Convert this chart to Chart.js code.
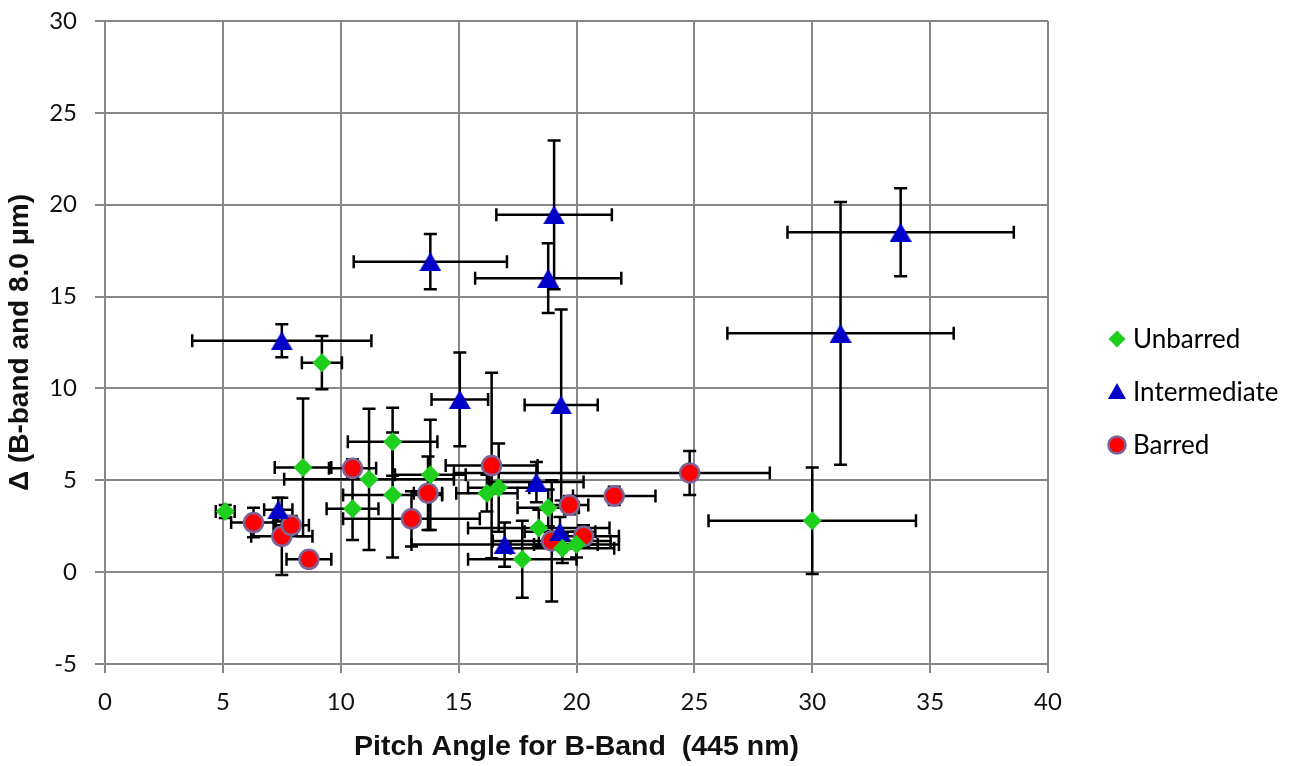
<!DOCTYPE html>
<html>
<head>
<meta charset="utf-8">
<script src="https://cdn.jsdelivr.net/npm/chart.js@4.4.1/dist/chart.umd.min.js"></script>
<style>
  html, body { margin: 0; padding: 0; background: #fff; }
  #wrap { width: 1302px; height: 766px; }
</style>
</head>
<body>
<div id="wrap"><canvas id="chart" width="1302" height="766"></canvas></div>
<script>
// Unbarred galaxies
const unbarredX    = [5.1, 8.4, 9.2, 10.5, 11.2, 12.2, 12.2, 13.8, 16.2, 16.7, 18.8, 18.4, 17.7, 19.4, 20.0, 30.0];
const unbarredY    = [3.3, 5.7, 11.4, 3.45, 5.05, 7.1, 4.2, 5.3, 4.3, 4.6, 3.5, 2.4, 0.7, 1.3, 1.5, 2.8];
const unbarredXErr = [0.4, 1.2, 0.85, 1.1, 3.6, 1.9, 2.1, 1.5, 1.3, 1.3, 1.3, 3.0, 2.3, 2.2, 1.8, 4.4];
const unbarredYErr = [0.35, 3.75, 1.45, 1.7, 3.85, 1.85, 3.4, 3.0, 1.0, 2.4, 1.0, 1.0, 2.1, 0.8, 0.7, 2.9];

// Intermediate
const intermediateX    = [7.5, 7.35, 13.8, 19.05, 18.8, 15.05, 19.35, 18.3, 16.95, 19.3, 31.2, 33.75];
const intermediateY    = [12.6, 3.4, 16.9, 19.45, 16.0, 9.4, 9.1, 4.9, 1.5, 2.2, 13.0, 18.5];
const intermediateXErr = [3.8, 0.6, 3.25, 2.45, 3.1, 1.2, 1.55, 2.0, 3.95, 1.5, 4.8, 4.8];
const intermediateYErr = [0.9, 0.65, 1.5, 4.05, 1.9, 2.55, 5.2, 1.1, 1.2, 0.8, 7.15, 2.4];

// Barred ([minus, plus] where the bar is lopsided)
const barredX    = [6.3, 7.5, 7.9, 8.65, 10.5, 13.7, 13.0, 16.4, 19.7, 21.6, 18.95, 20.3, 24.8];
const barredY    = [2.7, 1.95, 2.55, 0.7, 5.65, 4.3, 2.9, 5.8, 3.65, 4.15, 1.7, 1.95, 5.4];
const barredXErr = [0.95, 1.3, 0.75, 0.95, 1.0, 0.6, 2.9, 1.95, 0.8, 1.75, 2.5, 1.5, [10.0, 3.4]];
const barredYErr = [0.8, 2.1, 0.5, 0.3, 0.5, 2.0, 1.5, 5.05, 0.5, 0.5, 3.3, 0.6, 1.2];

const xTicks = [0, 5, 10, 15, 20, 25, 30, 35, 40];
const yTicks = [-5, 0, 5, 10, 15, 20, 25, 30];

const GRID = '#878787';

// triangle marker as a small canvas so it sits centred on the point like Excel's
function triangleImage(w, h, color) {
  const c = document.createElement('canvas');
  c.width = w; c.height = h;
  const g = c.getContext('2d');
  g.fillStyle = color;
  g.beginPath();
  g.moveTo(w / 2, 0);
  g.lineTo(w, h);
  g.lineTo(0, h);
  g.closePath();
  g.fill();
  return c;
}
const triMark = triangleImage(22, 19, '#0000c8');
const triLegend = triangleImage(18, 16, '#0000c8');

function toPoints(xs, ys) {
  return xs.map((x, i) => ({ x: x, y: ys[i] }));
}
function span(e) {
  return Array.isArray(e) ? e : [e, e];
}

// error bars drawn under the markers
const errorBars = {
  id: 'errorBars',
  beforeDatasetsDraw(chart) {
    const ctx = chart.ctx;
    const xs = chart.scales.x, ys = chart.scales.y;
    const cap = 6.5;
    ctx.save();
    ctx.strokeStyle = '#000';
    ctx.lineWidth = 2.5;
    chart.data.datasets.forEach(ds => {
      ds.data.forEach((p, i) => {
        const [xl, xh] = span(ds.xErr[i]);
        const [yl, yh] = span(ds.yErr[i]);
        const px = xs.getPixelForValue(p.x);
        const py = ys.getPixelForValue(p.y);
        const x0 = xs.getPixelForValue(p.x - xl), x1 = xs.getPixelForValue(p.x + xh);
        const y0 = ys.getPixelForValue(p.y - yl), y1 = ys.getPixelForValue(p.y + yh);
        ctx.beginPath();
        ctx.moveTo(x0, py); ctx.lineTo(x1, py);
        ctx.moveTo(x0, py - cap); ctx.lineTo(x0, py + cap);
        ctx.moveTo(x1, py - cap); ctx.lineTo(x1, py + cap);
        ctx.moveTo(px, y0); ctx.lineTo(px, y1);
        ctx.moveTo(px - cap, y0); ctx.lineTo(px + cap, y0);
        ctx.moveTo(px - cap, y1); ctx.lineTo(px + cap, y1);
        ctx.stroke();
      });
    });
    ctx.restore();
  }
};

// legend on the right, Excel style
const sideLegend = {
  id: 'sideLegend',
  afterDraw(chart) {
    const ctx = chart.ctx;
    const mx = 1117, tx = 1133;
    const rows = [339, 392, 445];
    ctx.save();
    ctx.font = '26px Lato';
    ctx.fillStyle = '#000';
    ctx.textBaseline = 'middle';
    chart.data.datasets.forEach((ds, i) => {
      const y = rows[i];
      ctx.save();
      if (ds.pointStyle === 'rectRot') {
        ctx.fillStyle = ds.backgroundColor;
        ctx.beginPath();
        ctx.moveTo(mx - 8.5, y); ctx.lineTo(mx, y - 8.5);
        ctx.lineTo(mx + 8.5, y); ctx.lineTo(mx, y + 8.5);
        ctx.closePath(); ctx.fill();
      } else if (ds.pointStyle === 'circle') {
        ctx.fillStyle = ds.backgroundColor;
        ctx.strokeStyle = ds.borderColor;
        ctx.lineWidth = ds.borderWidth;
        ctx.beginPath();
        ctx.arc(mx, y, 8.5, 0, Math.PI * 2);
        ctx.fill(); ctx.stroke();
      } else {
        ctx.drawImage(triLegend, mx - 9, y - 9);
      }
      ctx.restore();
      ctx.fillText(ds.label, tx, y + 1);
    });
    ctx.restore();
  }
};

new Chart(document.getElementById('chart'), {
  type: 'scatter',
  data: {
    datasets: [
      {
        label: 'Unbarred',
        data: toPoints(unbarredX, unbarredY),
        xErr: unbarredXErr, yErr: unbarredYErr,
        pointStyle: 'rectRot',
        pointRadius: 9.5,
        backgroundColor: '#1ecf1e',
        borderColor: '#1ecf1e',
        borderWidth: 0
      },
      {
        label: 'Intermediate',
        data: toPoints(intermediateX, intermediateY),
        xErr: intermediateXErr, yErr: intermediateYErr,
        pointStyle: triMark,
        pointRadius: 11,
        backgroundColor: '#0000c8',
        borderWidth: 0
      },
      {
        label: 'Barred',
        data: toPoints(barredX, barredY),
        xErr: barredXErr, yErr: barredYErr,
        pointStyle: 'circle',
        pointRadius: 9.5,
        backgroundColor: '#ff0000',
        borderColor: '#7e6399',
        borderWidth: 2.5
      }
    ]
  },
  options: {
    responsive: false,
    animation: false,
    devicePixelRatio: 1,
    layout: { padding: { top: 21, right: 254, left: 0, bottom: 0 } },
    plugins: {
      legend: { display: false },
      tooltip: { enabled: false }
    },
    scales: {
      x: {
        type: 'linear',
        min: xTicks[0],
        max: xTicks[xTicks.length - 1],
        afterBuildTicks: s => { s.ticks = xTicks.map(v => ({ value: v })); },
        afterFit: s => { s.height = 102; },
        grid: { color: GRID, lineWidth: 2, tickLength: 9, tickColor: GRID },
        border: { color: GRID, width: 2 },
        ticks: { color: '#111', font: { family: 'Lato', size: 24 }, padding: 15 },
        title: {
          display: true,
          text: 'Pitch Angle for B-Band  (445 nm)',
          color: '#111',
          font: { family: 'Liberation Sans', size: 28.5, weight: 'bold' },
          padding: { top: 4, bottom: 2 }
        }
      },
      y: {
        type: 'linear',
        min: yTicks[0],
        max: yTicks[yTicks.length - 1],
        afterBuildTicks: s => { s.ticks = yTicks.map(v => ({ value: v })); },
        // fixed width, and no extra room for the end labels
        afterFit: s => { s.width = 105; s.paddingTop = 0; s.paddingBottom = 0; },
        grid: { color: GRID, lineWidth: 2, tickLength: 10, tickColor: GRID },
        border: { color: GRID, width: 2 },
        ticks: { color: '#111', font: { family: 'Lato', size: 24 }, padding: 18 },
        title: {
          display: true,
          text: 'Δ (B-band and 8.0 μm)',
          color: '#111',
          font: { family: 'Liberation Sans', size: 28, weight: 'bold' },
          padding: { top: 3, bottom: 3 }
        }
      }
    }
  },
  plugins: [errorBars, sideLegend]
});
</script>
</body>
</html>
